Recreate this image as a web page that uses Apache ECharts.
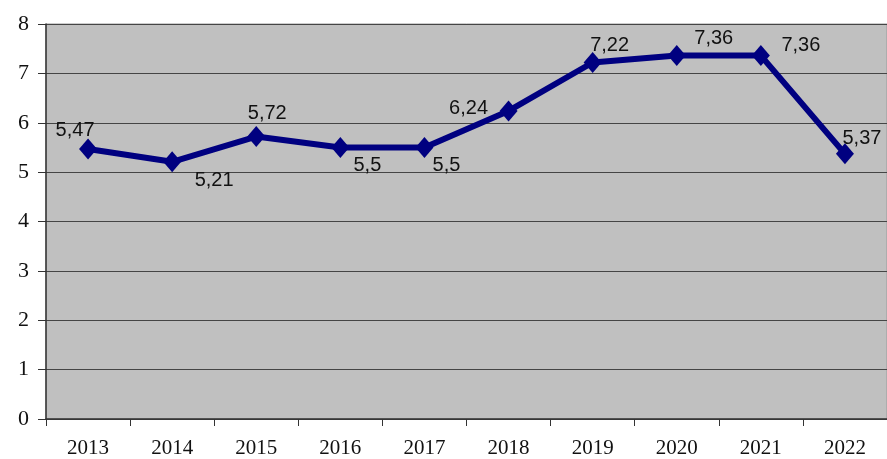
<!DOCTYPE html>
<html><head><meta charset="utf-8">
<script src="https://cdn.jsdelivr.net/npm/echarts@6/dist/echarts.min.js"></script>
<style>html,body{margin:0;padding:0;background:#fff}#c{width:887px;height:459px}</style>
</head><body><div id="c"></div>
<script>
const years = ['2013','2014','2015','2016','2017','2018','2019','2020','2021','2022'];
const values = [5.47, 5.21, 5.72, 5.5, 5.5, 6.24, 7.22, 7.36, 7.36, 5.37];
const valueLabels = ['5,47','5,21','5,72','5,5','5,5','6,24','7,22','7,36','7,36','5,37'];
const labelOffsets = [[-13,-18],[42,19],[11,-23],[27,18],[22,18],[-40,-2],[17,-17],[37,-17],[40,-10],[17,-15]];

const chart = echarts.init(document.getElementById('c'));
chart.setOption({
  animation: false,
  backgroundColor: '#ffffff',
  grid: {left: 46, right: -4, top: 24, bottom: 39, show: true, backgroundColor: '#c0c0c0', borderColor: '#9a9a9a', borderWidth: 1},
  xAxis: {
    type: 'category', data: years, boundaryGap: true,
    axisLine: {lineStyle: {color: '#333', width: 1.5}},
    axisTick: {show: true, length: 7, lineStyle: {color: '#333'}},
    axisLabel: {fontFamily: 'Liberation Serif', fontSize: 21, color: '#111', margin: 19},
    splitLine: {show: false}
  },
  yAxis: {
    type: 'value', min: 0, max: 8, interval: 1,
    axisLine: {show: true, lineStyle: {color: '#333', width: 1.5}},
    axisTick: {show: true, length: 8, lineStyle: {color: '#333'}},
    axisLabel: {fontFamily: 'Liberation Serif', fontSize: 22, color: '#111', margin: 17},
    splitLine: {show: true, lineStyle: {color: '#454545', width: 1.2}}
  },
  series: [{
    type: 'line',
    data: values.map((v, i) => ({
      value: v,
      label: {show: true, position: 'inside', offset: labelOffsets[i], formatter: valueLabels[i]}
    })),
    symbol: 'diamond', symbolSize: [18, 21],
    itemStyle: {color: '#000080'},
    lineStyle: {color: '#000080', width: 6},
    label: {fontFamily: 'Liberation Sans', fontSize: 20, color: '#111'}
  }]
});
</script></body></html>
